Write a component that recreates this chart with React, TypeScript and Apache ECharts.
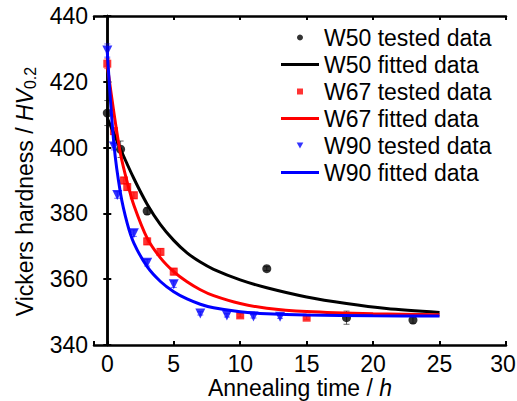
import React, { useEffect, useRef } from "react";
import * as echarts from "echarts";

// Tested data
const w50X = [0, 1, 3, 12, 18, 23];
const w50Y = [410.5, 399.5, 380.7, 363.2, 348.3, 347.6];
const w50Err = [3.8, 2.5, 1.0, 0.6, 2.0, 1.0];

const w67X = [0, 0.5, 1.25, 1.5, 2, 3, 4, 5, 10, 15];
const w67Y = [425.5, 405.0, 390.0, 388.0, 385.5, 371.5, 368.3, 362.3, 349.0, 348.3];
const w67Err = [1.5, 1.0, 1.0, 1.0, 1.0, 1.0, 1.0, 1.0, 0.5, 0.5];

const w90X = [0, 0.5, 0.75, 2, 3, 5, 7, 9, 11, 13];
const w90Y = [429.5, 400.3, 385.6, 374.0, 365.0, 358.5, 349.6, 349.0, 348.7, 348.6];
const w90Err = [2.0, 1.0, 1.0, 1.0, 1.0, 1.0, 0.5, 0.5, 0.5, 0.5];

// Fitted curves
const fitW50X = [0, 1, 2, 3, 4, 5, 6, 7, 8, 10, 12, 15, 18, 21, 25];
const fitW50Y = [409, 399.5, 390.6, 382.8, 376.6, 371.8, 368, 365.2, 363, 359.8, 357.4, 354.6, 352.6, 351.1, 349.9];

const fitW67X = [0, 0.5, 1, 1.5, 2, 3, 4, 5, 6, 7, 8, 10, 12, 15, 20, 25];
const fitW67Y = [425, 410.5, 398, 389.5, 382.5, 372.5, 366.5, 362.3, 359.2, 356.8, 355, 352.6, 351.2, 350.2, 349.5, 349.2];

const fitW90X = [0, 0.5, 1, 1.5, 2, 3, 4, 5, 6, 7, 8, 10, 12, 15, 20, 25];
const fitW90Y = [429, 401, 386, 377, 371, 363.8, 359.3, 356.2, 354, 352.4, 351.3, 350.1, 349.5, 349.1, 348.9, 348.8];

const xTickMin = -1;
const xTickMax = 30;
const yMin = 340;
const yMax = 440;
const yStep = 20;

const FONT = "Liberation Sans, Arial, sans-serif";
const FS = 23;

const zip = (xs: number[], ys: number[]) => xs.map((x, i) => [x, ys[i]]);
const zip3 = (xs: number[], ys: number[], es: number[]) => xs.map((x, i) => [x, ys[i], es[i]]);

function errorSeries(data: number[][], color: string) {
  return {
    type: "custom",
    silent: true,
    z: 1,
    data,
    renderItem: (params: any, api: any) => {
      const x = api.value(0);
      const y = api.value(1);
      const e = api.value(2);
      const top = api.coord([x, y + e]);
      const bot = api.coord([x, y - e]);
      const style = { stroke: color, lineWidth: 1, opacity: 0.6 };
      return {
        type: "group",
        children: [
          { type: "line", shape: { x1: top[0], y1: top[1], x2: bot[0], y2: bot[1] }, style },
          { type: "line", shape: { x1: top[0] - 3, y1: top[1], x2: top[0] + 3, y2: top[1] }, style },
          { type: "line", shape: { x1: bot[0] - 3, y1: bot[1], x2: bot[0] + 3, y2: bot[1] }, style },
        ],
      };
    },
  };
}

const LINE_ICON = "path://M0,0L100,0L100,8L0,8Z";

export default function App() {
  const ref = useRef<HTMLDivElement>(null);
  useEffect(() => {
    if (!ref.current) return;
    const chart = echarts.init(ref.current, null, { renderer: "svg" });
    const axisLine = { show: true, lineStyle: { color: "#000", width: 2.5 } };
    const axisTick = { show: true, inside: true, length: 4, lineStyle: { color: "#000", width: 2 } };
    const xBase = {
      type: "value",
      min: xTickMin,
      max: xTickMax,
      splitNumber: 6,
      axisLine,
      axisTick,
      splitLine: { show: false },
    };
    const yBase = {
      type: "value",
      min: yMin,
      max: yMax,
      interval: yStep,
      axisLine,
      axisTick,
      splitLine: { show: false },
    };
    const lineSeries = (name: string, xs: number[], ys: number[], color: string) => ({
      name,
      type: "line",
      smooth: 0.3,
      symbol: "none",
      lineStyle: { color, width: 3 },
      itemStyle: { color },
      data: zip(xs, ys),
      z: 4,
    });
    chart.setOption({
      animation: false,
      backgroundColor: "#fff",
      textStyle: { fontFamily: FONT },
      grid: { left: 94, right: 11, top: 16, bottom: 56, outerBoundsMode: "none", containLabel: false },
      xAxis: [
        {
          ...xBase,
          position: "bottom",
          axisLabel: {
            formatter: (v: number) => (v < 0 ? "" : v >= xTickMax ? "{m|" + v + "}" : String(v)),
            fontSize: FS,
            lineHeight: 23,
            color: "#000",
            fontFamily: FONT,
            margin: 7,
            rich: { m: { fontSize: FS, lineHeight: 23, color: "#000", fontFamily: FONT, padding: [0, 6, 0, 0] } },
          },
          name: "Annealing time / {i|h}",
          nameLocation: "middle",
          nameGap: 31,
          nameMoveOverlap: false,
          nameTextStyle: {
            fontSize: FS,
            lineHeight: 23,
            color: "#000",
            fontFamily: FONT,
            rich: { i: { fontSize: FS, lineHeight: 23, fontStyle: "italic", color: "#000", fontFamily: FONT } },
          },
        },
        { ...xBase, position: "top", axisLabel: { show: false } },
      ],
      yAxis: [
        {
          ...yBase,
          position: "left",
          axisLabel: { fontSize: FS, color: "#000", fontFamily: FONT, margin: 6 },
          name: "Vickers hardness / {i|HV}{s|0.2}",
          nameLocation: "middle",
          nameGap: 55,
          nameTextStyle: {
            fontSize: FS,
            color: "#000",
            fontFamily: FONT,
            padding: [0, 22, 0, 0],
            rich: {
              i: { fontSize: FS, fontStyle: "italic", color: "#000", fontFamily: FONT },
              s: { fontSize: 16, color: "#000", fontFamily: FONT, padding: [12, 0, 0, 0] },
            },
          },
        },
        { ...yBase, position: "right", axisLabel: { show: false } },
      ],
      legend: {
        left: 276,
        top: 21,
        orient: "vertical",
        itemWidth: 38,
        itemHeight: 6,
        itemGap: 4,
        symbolKeepAspect: true,
        textStyle: { fontSize: FS, lineHeight: 23, color: "#000", fontFamily: FONT },
        data: [
          { name: "W50 tested data", icon: "circle" },
          { name: "W50 fitted data", icon: LINE_ICON },
          { name: "W67 tested data", icon: "path://M0,0L10,0L10,10L0,10Z" },
          { name: "W67 fitted data", icon: LINE_ICON },
          { name: "W90 tested data", icon: "path://M0,0L10,0L5,9Z" },
          { name: "W90 fitted data", icon: LINE_ICON },
        ],
      },
      series: [
        errorSeries(zip3(w50X, w50Y, w50Err), "#000"),
        errorSeries(zip3(w67X, w67Y, w67Err), "#ff0000"),
        errorSeries(zip3(w90X, w90Y, w90Err), "#0000ff"),
        {
          name: "W50 tested data",
          type: "scatter",
          symbol: "circle",
          symbolSize: 9,
          itemStyle: { color: "#000" },
          data: zip(w50X, w50Y),
          z: 3,
        },
        {
          name: "W67 tested data",
          type: "scatter",
          symbol: "rect",
          symbolSize: 8,
          itemStyle: { color: "#ff0000" },
          data: zip(w67X, w67Y),
          z: 3,
        },
        {
          name: "W90 tested data",
          type: "scatter",
          symbol: "triangle",
          symbolRotate: 180,
          symbolSize: 10,
          itemStyle: { color: "#0000ff" },
          data: zip(w90X, w90Y),
          z: 3,
        },
        lineSeries("W50 fitted data", fitW50X, fitW50Y, "#000"),
        lineSeries("W67 fitted data", fitW67X, fitW67Y, "#ff0000"),
        lineSeries("W90 fitted data", fitW90X, fitW90Y, "#0000ff"),
      ],
    });
    return () => chart.dispose();
  }, []);
  return (
    <div
      ref={ref}
      style={{ position: "fixed", left: 0, top: 0, width: 517, height: 401, background: "#fff" }}
    />
  );
}
